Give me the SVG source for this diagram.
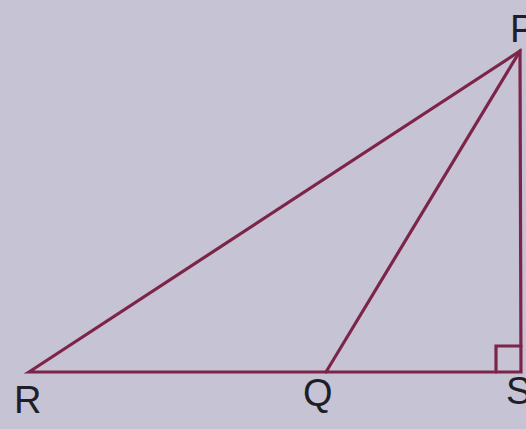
<svg xmlns="http://www.w3.org/2000/svg" width="526" height="429" viewBox="0 0 526 429">
<style>
.ln{stroke:#7d2549;stroke-width:3.2;fill:none;stroke-linejoin:miter;stroke-linecap:round}
.lb{font-family:"Liberation Sans",Arial,sans-serif;font-size:38px;fill:#1e1e28}
</style>
<rect width="526" height="429" fill="#c6c3d5"/>
<g id="connectors">
<path class="ln" d="M29 372 L520 51 L521 372 Z"/>
<line class="ln" x1="520" y1="51" x2="326" y2="372"/>
<path class="ln" d="M496 372 V346 H521"/>
</g>
<g id="P"><text class="lb" x="510" y="42">P</text></g>
<g id="R"><text class="lb" x="14" y="413">R</text></g>
<g id="Q"><text class="lb" x="303" y="406">Q</text></g>
<g id="S"><text class="lb" x="506" y="404">S</text></g>
</svg>
